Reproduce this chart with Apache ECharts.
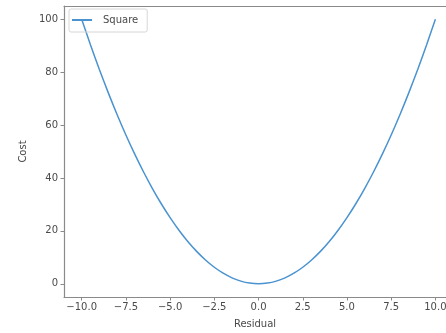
<!DOCTYPE html>
<html>
<head>
<meta charset="utf-8">
<script src="https://cdn.jsdelivr.net/npm/echarts@6/dist/echarts.min.js"></script>
<style>
  html, body { margin: 0; padding: 0; background: #fff; }
  #chart { width: 446px; height: 333px; }
</style>
</head>
<body>
<div id="chart"></div>
<script>
// Residual values (x) and their squared-cost values (y)
const residuals = [
  -10, -9.5, -9, -8.5, -8, -7.5, -7, -6.5, -6, -5.5, -5, -4.5, -4, -3.5, -3, -2.5, -2, -1.5, -1, -0.5,
  0, 0.5, 1, 1.5, 2, 2.5, 3, 3.5, 4, 4.5, 5, 5.5, 6, 6.5, 7, 7.5, 8, 8.5, 9, 9.5, 10
];
const costs = [
  100, 90.25, 81, 72.25, 64, 56.25, 49, 42.25, 36, 30.25, 25, 20.25, 16, 12.25, 9, 6.25, 4, 2.25, 1, 0.25,
  0, 0.25, 1, 2.25, 4, 6.25, 9, 12.25, 16, 20.25, 25, 30.25, 36, 42.25, 49, 56.25, 64, 72.25, 81, 90.25, 100
];
const xTicks = [-10, -7.5, -5, -2.5, 0, 2.5, 5, 7.5, 10];
const yTicks = [0, 20, 40, 60, 80, 100];
const seriesName = 'Square';

const points = residuals.map((r, i) => [r, costs[i]]);
const fontFamily = 'DejaVu Sans';
const fontSize = 10;
const axisColor = '#8a8a8a';
const textColor = '#4a4a4a';
const lineColor = '#4a93d0';

const chart = echarts.init(document.getElementById('chart'), null, { renderer: 'canvas' });
chart.setOption({
  animation: false,
  backgroundColor: '#fff',
  // the plot runs past the right edge of the canvas, so the right spine is not shown
  grid: { left: 64, top: 6, right: 0, bottom: 36, show: false, outerBoundsMode: 'none', containLabel: false },
  legend: {
    left: 69, top: 9,
    data: [{ name: seriesName, icon: 'rect' }],
    itemWidth: 20, itemHeight: 2, itemGap: 6,
    padding: [6, 9, 7, 3],
    borderColor: '#d6d6d6', borderWidth: 1, borderRadius: 2,
    textStyle: { fontFamily, fontSize, color: textColor, padding: [0, 0, 0, 6] }
  },
  xAxis: [{
    type: 'value', min: -11, max: 10.6, position: 'bottom',
    name: 'Residual', nameLocation: 'middle', nameGap: 22,
    nameTextStyle: { fontFamily, fontSize, color: textColor },
    axisLine: { show: true, onZero: false, lineStyle: { color: axisColor, width: 1.2 } },
    axisTick: { show: true, length: 3.5, customValues: xTicks, lineStyle: { color: axisColor } },
    axisLabel: {
      customValues: xTicks, fontFamily, fontSize, color: textColor, margin: 5,
      showMaxLabel: true,
      formatter: v => v.toFixed(1).replace('-', '\u2212')
    },
    splitLine: { show: false }
  }, {
    // top spine
    type: 'value', min: -11, max: 10.6, position: 'top',
    axisLine: { show: true, onZero: false, lineStyle: { color: axisColor, width: 1.2 } },
    axisTick: { show: false }, axisLabel: { show: false }, splitLine: { show: false }
  }],
  yAxis: {
    type: 'value', min: -5, max: 105,
    name: 'Cost', nameLocation: 'middle', nameGap: 34, nameRotate: 90,
    nameTextStyle: { fontFamily, fontSize, color: textColor },
    axisLine: { show: true, onZero: false, lineStyle: { color: axisColor, width: 1.2 } },
    axisTick: { show: true, length: 3.5, customValues: yTicks, lineStyle: { color: axisColor } },
    axisLabel: { customValues: yTicks, fontFamily, fontSize, color: textColor, margin: 6 },
    splitLine: { show: false }
  },
  series: [{
    name: seriesName,
    type: 'line',
    xAxisIndex: 0,
    data: points,
    smooth: 0.3,
    showSymbol: false,
    symbol: 'none',
    lineStyle: { color: lineColor, width: 1.5 },
    itemStyle: { color: lineColor }
  }]
});
</script>
</body>
</html>
